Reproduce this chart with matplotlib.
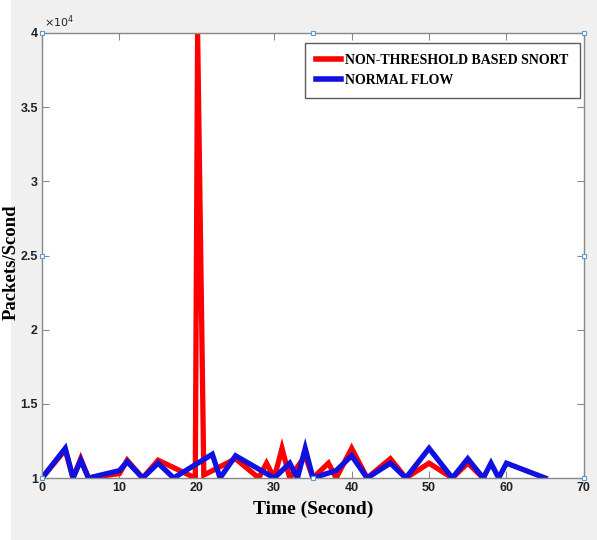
import numpy as np
import matplotlib
matplotlib.use("Agg")
import matplotlib.pyplot as plt
from matplotlib.patches import Rectangle

# packets per second, in units of 1e4
snort_t = [0, 3, 4, 5, 6, 10, 11, 13, 15, 19.8, 20.1, 20.9, 25, 28, 29, 30,
           31, 32, 34, 35, 37, 38, 40, 42, 45, 47, 50, 53, 55, 57]
snort_v = [1.0, 1.19, 1.0, 1.13, 1.0, 1.03, 1.12, 1.0, 1.12, 1.0, 4.0, 1.02,
           1.13, 1.0, 1.1, 1.0, 1.2, 1.0, 1.15, 1.0, 1.1, 1.0, 1.2, 1.0,
           1.13, 1.0, 1.1, 1.0, 1.1, 1.0]

normal_t = [0, 3, 4, 5, 6, 10, 11, 13, 15, 17, 22, 23, 25, 30, 32, 33, 34,
            35, 38, 40, 42, 45, 47, 50, 53, 55, 57, 58, 59, 60, 65]
normal_v = [1.0, 1.2, 1.0, 1.12, 1.0, 1.05, 1.11, 1.0, 1.1, 1.0, 1.16, 1.0,
            1.15, 1.0, 1.1, 1.0, 1.2, 1.0, 1.05, 1.15, 1.0, 1.1, 1.0, 1.2,
            1.0, 1.13, 1.0, 1.1, 1.0, 1.1, 1.0]

x_ticks = [0, 10, 20, 30, 40, 50, 60, 70]
y_ticks = [1, 1.5, 2, 2.5, 3, 3.5, 4]
y_tick_labels = ["1", "1.5", "2", "2.5", "3", "3.5", "4"]

fig = plt.figure(figsize=(5.97, 5.40), dpi=100, facecolor="#f0f0f0")
# white strip at the left edge of the screenshot
fig.patches.append(Rectangle((0, 0), 11 / 597, 1, transform=fig.transFigure,
                             facecolor="white", edgecolor="none", zorder=-5))
ax = fig.add_axes([0.0704, 0.1148, 0.9076, 0.8241])
ax.set_facecolor("white")

ax.plot(snort_t, snort_v, color="#ff0000", lw=3.8, label="NON-THRESHOLD BASED SNORT",
        solid_joinstyle="miter")
ax.plot(normal_t, normal_v, color="#1010e0", lw=3.8, label="NORMAL FLOW",
        solid_joinstyle="miter")

# edit handles on the axes box
hx = [0, 35, 70, 70, 70, 35, 0, 0]
hy = [4, 4, 4, 2.5, 1, 1, 1, 2.5]
ax.plot(hx, hy, ls="none", marker="s", ms=3.5, mfc="white", mec="#5b9bd5",
        mew=0.8, clip_on=False, zorder=5)

ax.set_xlim(0, 70)
ax.set_ylim(1, 4)
ax.set_xticks(x_ticks)
ax.set_yticks(y_ticks)
ax.set_yticklabels(y_tick_labels)
for s in ax.spines.values():
    s.set_color("#888888")
    s.set_linewidth(1.0)
ax.tick_params(direction="in", length=5, color="#888888", top=True, right=True,
               labelsize=9, labelcolor="#222222", pad=3)
for lab in ax.get_xticklabels() + ax.get_yticklabels():
    lab.set_family("Liberation Sans")
    lab.set_fontweight("bold")

ax.text(0.004, 1.006, r"$\times10^4$", transform=ax.transAxes, fontsize=8,
        color="#222222", va="bottom", ha="left")

ax.set_xlabel("Time (Second)", family="Liberation Serif", fontweight="bold",
              fontsize=14, labelpad=5)
ax.set_ylabel("Packets/Scond", family="Liberation Serif", fontweight="bold",
              fontsize=13.5)
ax.yaxis.set_label_coords(-0.042, 0.485)

leg = ax.legend(loc="upper right", prop={"family": "Liberation Serif",
                "weight": "bold", "size": 10}, frameon=True, fancybox=False,
                handlelength=1.8, handletextpad=0.3, borderpad=0.8,
                labelspacing=0.5, borderaxespad=0,
                bbox_to_anchor=(0.9926, 0.9775))
leg.get_frame().set_edgecolor("#333333")
leg.get_frame().set_linewidth(1.0)
for line in leg.get_lines():
    line.set_linewidth(4)

fig.savefig("out.png", dpi=100, facecolor=fig.get_facecolor())
